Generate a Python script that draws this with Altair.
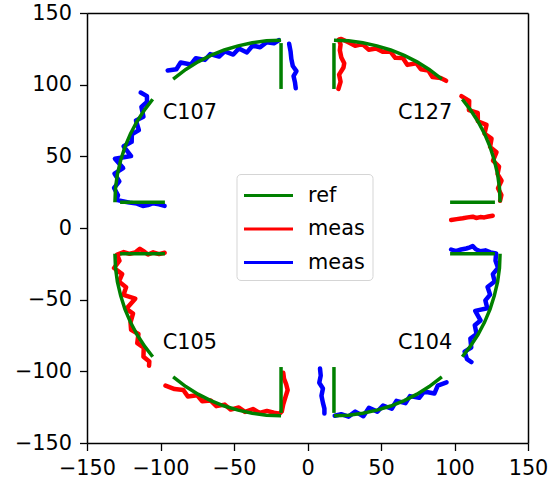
import altair as alt
import pandas as pd

# ---------------- reference outlines (green) ----------------
ref_q1_arc_a_x = [131.0, 130.6, 129.3, 127.1, 124.2, 120.4, 115.9, 110.6, 105.3]
ref_q1_arc_a_y = [18.0, 27.9, 37.6, 47.2, 56.6, 65.8, 74.5, 82.8, 89.8]
ref_q1_arc_b_x = [18.0, 27.9, 37.6, 47.2, 56.6, 65.8, 74.5, 82.8, 91.4]
ref_q1_arc_b_y = [131.0, 130.6, 129.3, 127.1, 124.2, 120.4, 115.9, 110.6, 103.9]
ref_q2_arc_a_x = [-131.0, -130.6, -129.3, -127.1, -124.2, -120.4, -115.9, -110.6, -105.3]
ref_q2_arc_a_y = [18.0, 27.9, 37.6, 47.2, 56.6, 65.8, 74.5, 82.8, 89.8]
ref_q2_arc_b_x = [-18.0, -27.9, -37.6, -47.2, -56.6, -65.8, -74.5, -82.8, -91.4]
ref_q2_arc_b_y = [131.0, 130.6, 129.3, 127.1, 124.2, 120.4, 115.9, 110.6, 103.9]
ref_q3_arc_a_x = [-131.0, -130.6, -129.3, -127.1, -124.2, -120.4, -115.9, -110.6, -105.3]
ref_q3_arc_a_y = [-18.0, -27.9, -37.6, -47.2, -56.6, -65.8, -74.5, -82.8, -89.8]
ref_q3_arc_b_x = [-18.0, -27.9, -37.6, -47.2, -56.6, -65.8, -74.5, -82.8, -91.4]
ref_q3_arc_b_y = [-131.0, -130.6, -129.3, -127.1, -124.2, -120.4, -115.9, -110.6, -103.9]
ref_q4_arc_a_x = [131.0, 130.6, 129.3, 127.1, 124.2, 120.4, 115.9, 110.6, 105.3]
ref_q4_arc_a_y = [-18.0, -27.9, -37.6, -47.2, -56.6, -65.8, -74.5, -82.8, -89.8]
ref_q4_arc_b_x = [18.0, 27.9, 37.6, 47.2, 56.6, 65.8, 74.5, 82.8, 91.4]
ref_q4_arc_b_y = [-131.0, -130.6, -129.3, -127.1, -124.2, -120.4, -115.9, -110.6, -103.9]

ref_q1_h_x = [97.0, 127.5]
ref_q1_h_y = [18.0, 18.0]
ref_q1_v_x = [18.0, 18.0]
ref_q1_v_y = [97.0, 129.0]
ref_q2_h_x = [-97.0, -127.5]
ref_q2_h_y = [18.0, 18.0]
ref_q2_v_x = [-18.0, -18.0]
ref_q2_v_y = [97.0, 129.0]
ref_q3_h_x = [-97.0, -127.5]
ref_q3_h_y = [-18.0, -18.0]
ref_q3_v_x = [-18.0, -18.0]
ref_q3_v_y = [-97.0, -129.0]
ref_q4_h_x = [97.0, 127.5]
ref_q4_h_y = [-18.0, -18.0]
ref_q4_v_x = [18.0, 18.0]
ref_q4_v_y = [-97.0, -129.0]

# ---------------- measurements ----------------
# C127 (red)
q1_red_top_x = [21.0, 22.5, 21.5, 24.5, 25.0, 23.0, 22.0, 22.5, 21.5, 23.0, 27.8, 32.4, 37.4, 41.6,
                46.7, 51.1, 56.3, 59.7, 64.9, 67.9, 74.0, 77.1, 82.2, 85.0, 90.6, 94.3]
q1_red_top_y = [97.0, 102.0, 107.0, 112.0, 115.0, 119.0, 124.0, 128.0, 131.5, 131.9, 129.6, 127.1, 128.3, 124.4,
                125.2, 122.9, 123.2, 118.7, 118.6, 113.8, 115.0, 110.8, 109.8, 105.3, 104.6, 102.7]
q1_red_side_x = [104.7, 110.0, 109.8, 115.8, 115.9, 121.8, 120.4, 125.2, 124.2, 128.6, 126.2, 130.3,
                 129.3, 132.0, 129.6, 131.9, 131.0]
q1_red_side_y = [92.0, 88.6, 82.2, 80.3, 74.5, 72.0, 65.8, 62.4, 56.6, 52.9, 47.0, 42.9,
                 37.6, 33.0, 27.8, 23.0, 19.0]
q1_red_leg_x = [97.7, 101.5, 105.6, 109.0, 112.4, 114.7, 117.5, 120.3, 123.0, 126.0]
q1_red_leg_y = [5.6, 6.2, 6.8, 7.4, 7.9, 7.0, 7.6, 7.4, 8.0, 8.6]

# C107 (blue)
q2_blue_side_x = [-97.2, -101.0, -105.0, -108.5, -112.0, -116.0, -121.0, -125.0, -130.0,
                  -128.9, -131.6, -128.0, -131.3, -125.4, -131.0, -120.0, -125.1, -119.6, -119.5,
                  -114.7, -116.7, -111.6, -113.0, -109.2, -109.2, -113.5]
q2_blue_side_y = [15.4, 16.5, 17.3, 16.0, 15.4, 17.0, 17.7, 18.5, 19.6,
                  22.8, 27.9, 32.5, 38.0, 41.8, 48.3, 50.2, 57.0, 60.1, 65.3,
                  68.3, 75.0, 77.6, 84.5, 88.0, 92.0, 94.5]
q2_blue_top_x = [-95.1, -89.2, -86.3, -79.3, -76.0, -69.7, -66.2, -60.1, -56.3, -50.5, -46.7,
                 -41.2, -37.3, -32.2, -27.8, -22.8, -19.5]
q2_blue_top_y = [109.9, 110.8, 115.5, 114.1, 118.5, 117.3, 121.3, 119.6, 123.2, 121.0, 125.2,
                 122.5, 127.3, 126.1, 129.6, 128.9, 131.0]
q2_blue_leg_x = [-12.5, -11.5, -11.0, -10.0, -7.5, -9.5, -8.5, -8.0]
q2_blue_leg_y = [128.5, 123.0, 118.0, 113.0, 109.5, 106.0, 101.5, 97.5]

# C105 (red)
q3_red_side_x = [-97.2, -101.0, -105.0, -108.5, -111.0, -114.0, -117.0, -121.0, -125.0, -129.5,
                 -127.9, -131.6, -126.1, -128.3, -123.4, -125.2, -117.2, -123.2, -118.7, -120.4,
                 -120.0, -115.0, -115.8, -111.4, -111.6, -107.6, -107.8]
q3_red_side_y = [-17.3, -18.2, -17.0, -18.5, -16.5, -14.5, -17.0, -18.0, -16.8, -18.5,
                 -22.8, -27.9, -32.2, -37.4, -41.4, -46.7, -49.3, -56.3, -59.7, -65.8,
                 -71.1, -74.0, -80.3, -83.4, -89.8, -93.2, -96.1]
q3_red_bot_x = [-96.6, -90.4, -84.5, -81.4, -75.0, -71.6, -65.8, -62.0, -56.3, -52.3, -46.7, -42.5,
                -37.1, -32.6, -27.6, -22.8, -19.0, -17.5, -16.5, -15.0, -13.5, -14.5, -16.0, -16.5]
q3_red_bot_y = [-110.0, -112.4, -113.0, -117.5, -116.7, -120.9, -120.4, -124.3, -123.2, -126.7, -125.2, -128.3,
                -126.3, -129.0, -127.6, -128.9, -129.5, -128.0, -123.0, -118.0, -113.0, -109.0, -105.0, -101.0]

# C104 (blue)
q4_blue_side_x = [97.7, 101.0, 104.5, 108.0, 110.5, 112.4, 114.5, 117.5, 121.0, 124.5, 128.3,
                  127.9, 129.6, 126.1, 127.3, 122.5, 124.2, 121.0, 122.3, 114.1, 117.7, 113.8,
                  115.0, 110.8, 111.4, 106.9, 108.5, 111.5]
q4_blue_side_y = [-15.0, -16.2, -15.0, -14.3, -13.5, -12.6, -14.8, -16.2, -15.6, -17.0, -17.7,
                  -22.8, -27.8, -32.2, -37.3, -41.2, -46.5, -50.5, -56.0, -57.8, -64.5, -67.9,
                  -74.0, -77.1, -83.4, -86.2, -91.5, -93.5]
q4_blue_bot_x = [94.6, 88.6, 86.3, 79.3, 76.0, 69.7, 66.6, 60.5, 57.3, 51.4, 47.5, 41.8, 38.0,
                 32.5, 27.9, 22.9, 18.5]
q4_blue_bot_y = [-107.7, -110.0, -115.5, -114.1, -118.5, -117.3, -122.2, -120.6, -126.1, -123.9,
                 -128.1, -125.4, -131.3, -128.1, -131.6, -129.9, -131.0]
q4_blue_leg_x = [8.5, 9.0, 8.0, 10.5, 9.5, 10.5, 11.5, 11.5]
q4_blue_leg_y = [-98.0, -103.0, -108.0, -112.0, -117.0, -122.0, -126.0, -129.5]

# ---------------- labels ----------------
label_text = ["C107", "C127", "C105", "C104"]
label_x = [-80, 80, -80, 80]
label_y = [80, 80, -80, -80]

tick_values = [-150, -100, -50, 0, 50, 100, 150]
series_keys = ["ref", "meas_r", "meas_b"]
series_colors = ["#008000", "#ff0000", "#0000ff"]

# ---------------- build tables ----------------
def table(pieces, key):
    rows = []
    for seg, (xs, ys) in enumerate(pieces):
        for i, (x, y) in enumerate(zip(xs, ys)):
            rows.append({"x": x, "y": y, "key": key, "seg": f"{key}{seg}", "i": i})
    return rows

ref_rows = table([
    (ref_q1_arc_a_x, ref_q1_arc_a_y), (ref_q1_arc_b_x, ref_q1_arc_b_y),
    (ref_q2_arc_a_x, ref_q2_arc_a_y), (ref_q2_arc_b_x, ref_q2_arc_b_y),
    (ref_q3_arc_a_x, ref_q3_arc_a_y), (ref_q3_arc_b_x, ref_q3_arc_b_y),
    (ref_q4_arc_a_x, ref_q4_arc_a_y), (ref_q4_arc_b_x, ref_q4_arc_b_y),
    (ref_q1_h_x, ref_q1_h_y), (ref_q1_v_x, ref_q1_v_y),
    (ref_q2_h_x, ref_q2_h_y), (ref_q2_v_x, ref_q2_v_y),
    (ref_q3_h_x, ref_q3_h_y), (ref_q3_v_x, ref_q3_v_y),
    (ref_q4_h_x, ref_q4_h_y), (ref_q4_v_x, ref_q4_v_y),
], "ref")
red_rows = table([
    (q1_red_top_x, q1_red_top_y), (q1_red_side_x, q1_red_side_y), (q1_red_leg_x, q1_red_leg_y),
    (q3_red_side_x, q3_red_side_y), (q3_red_bot_x, q3_red_bot_y),
], "meas_r")
blue_rows = table([
    (q2_blue_side_x, q2_blue_side_y), (q2_blue_top_x, q2_blue_top_y), (q2_blue_leg_x, q2_blue_leg_y),
    (q4_blue_side_x, q4_blue_side_y), (q4_blue_bot_x, q4_blue_bot_y), (q4_blue_leg_x, q4_blue_leg_y),
], "meas_b")

df_ref = pd.DataFrame(ref_rows)
df_meas = pd.DataFrame(red_rows + blue_rows)
df_lab = pd.DataFrame({"x": label_x, "y": label_y, "text": label_text})

FONT = "DejaVu Sans"
FS = 20.8
SPINE = 1.5

xs = alt.Scale(domain=[-150, 150], nice=False, zero=False)
ys = alt.Scale(domain=[-150, 150], nice=False, zero=False)
ax_common = dict(values=tick_values, title=None, grid=False,
                 domain=True, domainColor="black", domainWidth=SPINE,
                 labelFont=FONT, labelFontSize=FS, labelColor="black",
                 tickColor="black", tickSize=7.5, tickWidth=1.3,
                 labelPadding=8, labelFlush=False, labelOverlap=False)
xaxis = alt.Axis(orient="bottom", **ax_common)
yaxis = alt.Axis(orient="left", **ax_common)
frame_common = dict(title=None, grid=False, labels=False, ticks=False,
                    domain=True, domainColor="black", domainWidth=SPINE)
xaxis_top = alt.Axis(orient="top", **frame_common)
yaxis_right = alt.Axis(orient="right", **frame_common)

color = alt.Color(
    "key:N",
    scale=alt.Scale(domain=series_keys, range=series_colors),
    legend=alt.Legend(
        title=None, orient="none", legendX=149.5, legendY=161,
        symbolType="M-2,0H2", symbolSize=600.25, symbolStrokeWidth=3,
        symbolOffset=10.5, labelOffset=25.6,
        labelFont=FONT, labelFontSize=FS, labelColor="black",
        labelExpr="datum.label == 'ref' ? 'ref' : 'meas'",
        padding=7.5, rowPadding=9.5, strokeColor="#d5d5d5", fillColor="white",
        cornerRadius=4,
    ),
)

meas = alt.Chart(df_meas).mark_line(strokeWidth=4.5, strokeJoin="round", strokeCap="round").encode(
    x=alt.X("x:Q", scale=xs, axis=xaxis),
    y=alt.Y("y:Q", scale=ys, axis=yaxis),
    color=color,
    detail="seg:N",
    order="i:Q",
)
ref = alt.Chart(df_ref).mark_line(strokeWidth=3.5).encode(
    x=alt.X("x:Q", scale=xs, axis=None),
    y=alt.Y("y:Q", scale=ys, axis=None),
    color=color,
    detail="seg:N",
    order="i:Q",
)
labels = alt.Chart(df_lab).mark_text(font=FONT, fontSize=FS, color="black",
                                     align="center", baseline="middle").encode(
    x=alt.X("x:Q", scale=xs, axis=xaxis_top),
    y=alt.Y("y:Q", scale=ys, axis=yaxis_right),
    text="text:N",
)

chart = alt.layer(meas, ref, labels).resolve_axis(
    x="independent", y="independent"
).properties(
    width=441, height=430,
    background="white",
    autosize=alt.AutoSizeParams(type="none"),
    padding={"left": 87, "top": 13, "right": 24, "bottom": 40},
).configure_view(stroke=None)

chart.save("out.html", embed_options={"renderer": "svg", "actions": False})
